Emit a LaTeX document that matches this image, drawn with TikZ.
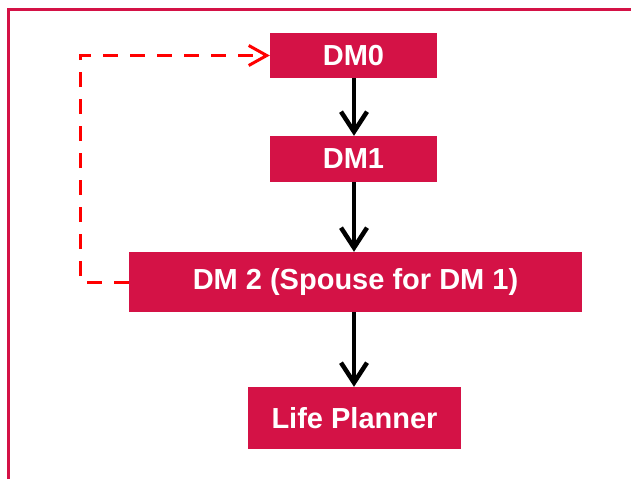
\documentclass[tikz,border=0pt]{standalone}
\usepackage{fontspec}
\setmainfont{Liberation Sans}
\usepackage{tikz}
\usetikzlibrary{
  arrows.meta,
  positioning
}
\definecolor{crimson}{RGB}{212,18,70}

\begin{document}
\begin{tikzpicture}[x=1pt,y=-1pt,
  every text node part/.style={align=center},
  dmbox/.style={rectangle,draw=none,fill=crimson,text=white,inner sep=0pt,
    font=\fontsize{29}{33}\selectfont\bfseries},
  flow/.style={line width=4.5pt,-{Straight Barb[length=20pt,width=26pt]}},
  back/.style={line width=3pt,red,dash pattern=on 15pt off 12pt,
    -{Straight Barb[length=18pt,width=20pt]}}]
  \useasboundingbox (0,0) rectangle (631,479);
  \draw[crimson,line width=3pt] (8.5,479) -- (8.5,9.5) -- (631,9.5);

  \node[dmbox,minimum width=167pt,minimum height=45pt] (dm0) at (353.5,55.5) {DM0};
  \node[dmbox,minimum width=167pt,minimum height=46pt] (dm1) at (353.5,159) {DM1};
  \node[dmbox,minimum width=453pt,minimum height=60pt] (dm2) at (355.5,282) {DM 2 (Spouse for DM 1)};
  \node[dmbox,minimum width=213pt,minimum height=62pt] (life) at (354.5,418) {Life Planner};

  \draw[flow] (dm0.south -| 354,0) -- (dm1.north -| 354,0);
  \draw[flow] (dm1.south -| 354,0) -- (dm2.north -| 354,0);
  \draw[flow] (dm2.south -| 354,0) -- (life.north -| 354,0);

  % dashed link back to the top
  \draw[back] (dm2.west) -- ++(-48,0) |- (dm0.west);
\end{tikzpicture}
\end{document}
